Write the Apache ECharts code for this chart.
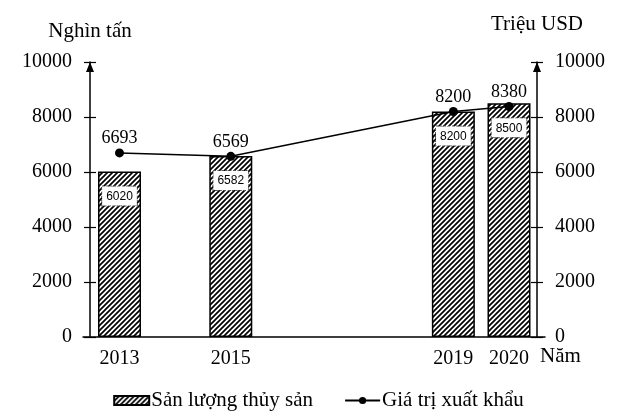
<!DOCTYPE html>
<html>
<head>
<meta charset="utf-8">
<script src="https://cdn.jsdelivr.net/npm/echarts@6/dist/echarts.min.js"></script>
<style>
  html, body { margin: 0; padding: 0; background: #fff; }
  #main { width: 637px; height: 418px; }
</style>
</head>
<body>
<div id="main"></div>
<script>
// du lieu
var years = [2013, 2015, 2019, 2020];
var sanLuong = [6020, 6582, 8200, 8500];   // nghin tan
var giaTri = [6693, 6569, 8200, 8380];     // trieu USD
var yTicks = [0, 2000, 4000, 6000, 8000, 10000];

var serif = 'Liberation Serif, Times New Roman, serif';

// nen gach cheo cho cot
function hatch() {
  var s = 5;
  var c = document.createElement('canvas');
  c.width = s; c.height = s;
  var ctx = c.getContext('2d');
  ctx.fillStyle = '#fff';
  ctx.fillRect(0, 0, s, s);
  ctx.strokeStyle = '#000';
  ctx.lineWidth = 1.7;
  ctx.beginPath();
  ctx.moveTo(0, s); ctx.lineTo(s, 0);
  ctx.moveTo(-1, 1); ctx.lineTo(1, -1);
  ctx.moveTo(s - 1, s + 1); ctx.lineTo(s + 1, s - 1);
  ctx.stroke();
  return c;
}

var myChart = echarts.init(document.getElementById('main'));

function yAx(pos, ticksInside, main) {
  return {
    type: 'value',
    position: pos,
    offset: pos === 'left' ? -7 : -8,
    min: yTicks[0],
    max: yTicks[yTicks.length - 1],
    interval: 2000,
    name: main ? (pos === 'left' ? 'Nghìn tấn' : 'Triệu USD') : '',
    nameLocation: 'end',
    nameGap: pos === 'left' ? 20 : 27,
    nameTextStyle: { fontFamily: serif, fontSize: 21, color: '#000', align: 'center' },
    axisLine: main ? {
      show: true,
      symbol: ['none', 'triangle'],
      symbolSize: [8, 10],
      symbolOffset: [0, -5],
      lineStyle: { color: '#000', width: 1.5 }
    } : { show: false },
    axisTick: { show: true, inside: ticksInside, length: 6, lineStyle: { color: '#000', width: 1.2 } },
    axisLabel: {
      show: main,
      margin: 18,
      formatter: function (v) { return String(v); },
      fontFamily: serif,
      fontSize: 20,
      color: '#000'
    },
    splitLine: { show: false }
  };
}

myChart.setOption({
  animation: false,
  grid: { left: 83, right: 92, top: 62, bottom: 81 },
  legend: {
    left: 'center',
    top: 385,
    itemWidth: 35,
    itemHeight: 9,
    itemGap: 31,
    textStyle: { fontFamily: serif, fontSize: 21, color: '#000', padding: [0, 0, 0, -3] },
    data: [
      { name: 'Sản lượng thủy sản', icon: 'rect' },
      { name: 'Giá trị xuất khẩu' }
    ]
  },
  xAxis: {
    type: 'value',
    min: 2012.344,
    max: 2020.647,
    name: 'Năm',
    nameLocation: 'end',
    nameGap: -5,
    nameMoveOverlap: false,
    nameTextStyle: {
      fontFamily: serif, fontSize: 21, color: '#000',
      align: 'left', verticalAlign: 'top', padding: [9, 0, 0, 0]
    },
    axisLine: { show: true, lineStyle: { color: '#000', width: 1.5 } },
    axisTick: { show: false },
    splitLine: { show: false },
    axisLabel: {
      customValues: years,
      margin: 12,
      formatter: function (v) { return String(v); },
      fontFamily: serif,
      fontSize: 20,
      color: '#000'
    }
  },
  yAxis: [
    yAx('left', false, true),
    yAx('right', false, true),
    yAx('left', true, false),
    yAx('right', true, false)
  ],
  series: [
    {
      name: 'Sản lượng thủy sản',
      type: 'bar',
      yAxisIndex: 0,
      barWidth: 43,
      data: years.map(function (y, i) { return [y, sanLuong[i]]; }),
      itemStyle: {
        color: { image: hatch(), repeat: 'repeat' },
        borderColor: '#000',
        borderWidth: 1.5
      },
      label: {
        show: true,
        position: 'insideTop',
        distance: 15,
        formatter: function (p) { return p.value[1]; },
        fontFamily: 'Liberation Sans, Arial, sans-serif',
        fontSize: 12,
        color: '#000',
        backgroundColor: '#fff',
        borderColor: '#555',
        borderWidth: 1,
        borderType: 'dotted',
        padding: [4, 4, 3, 4]
      },
      z: 2
    },
    {
      name: 'Giá trị xuất khẩu',
      type: 'line',
      yAxisIndex: 1,
      data: years.map(function (y, i) { return [y, giaTri[i]]; }),
      symbol: 'circle',
      symbolSize: 9,
      itemStyle: { color: '#000' },
      lineStyle: { color: '#000', width: 1.5 },
      label: {
        show: true,
        position: 'top',
        distance: 1,
        formatter: function (p) { return p.value[1]; },
        fontFamily: serif,
        fontSize: 18,
        color: '#000'
      },
      z: 5
    }
  ]
});
</script>
</body>
</html>
